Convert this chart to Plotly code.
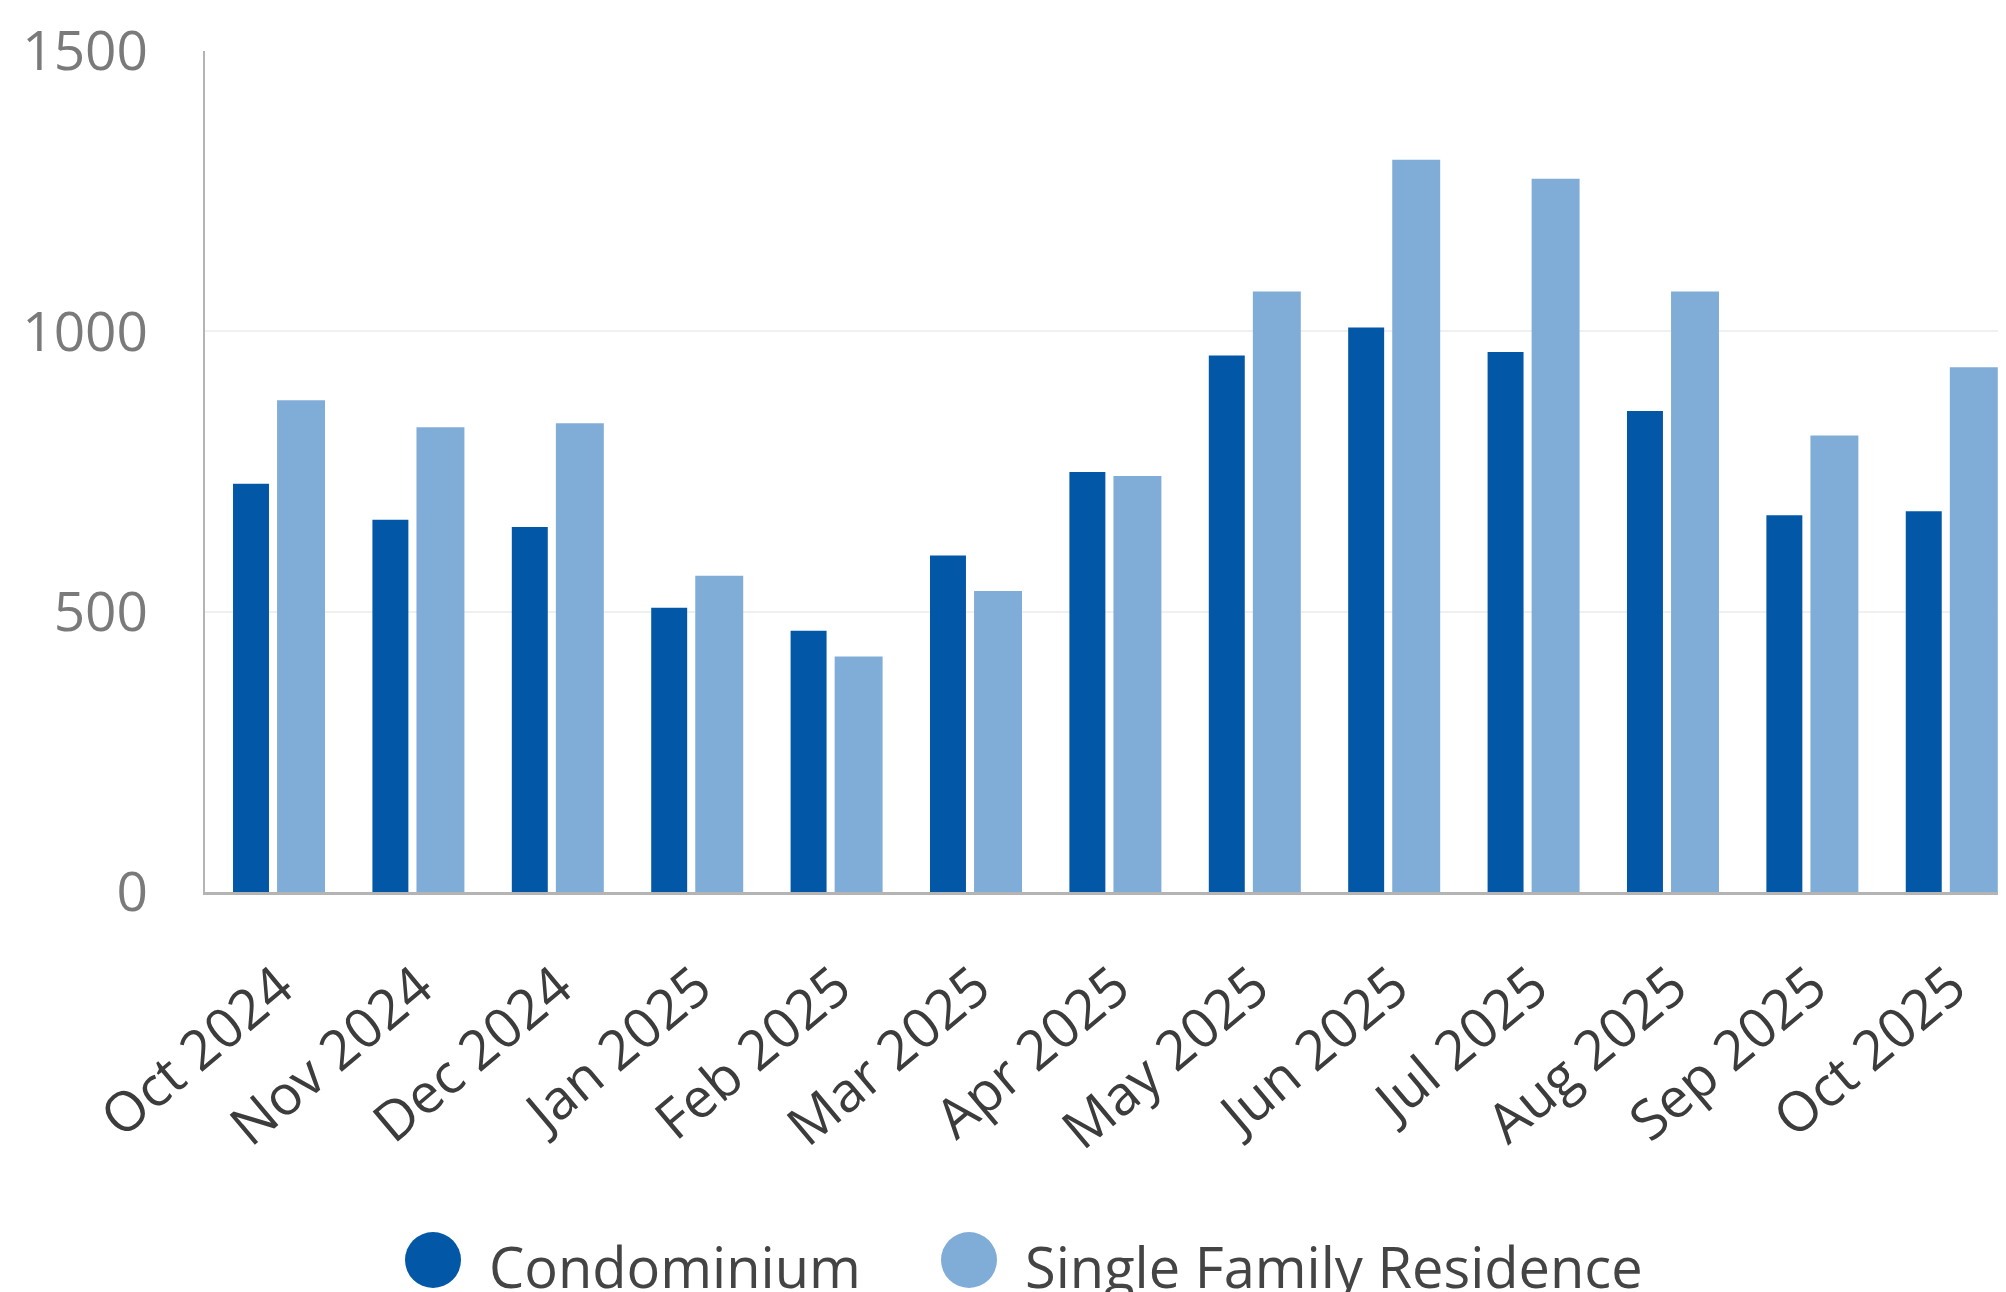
import plotly.graph_objects as go

months = ["Oct 2024", "Nov 2024", "Dec 2024", "Jan 2025", "Feb 2025", "Mar 2025", "Apr 2025",
          "May 2025", "Jun 2025", "Jul 2025", "Aug 2025", "Sep 2025", "Oct 2025"]
condo = [728, 664, 651, 507, 466, 600, 749, 957, 1007, 963, 858, 672, 679]
sfr = [877, 829, 836, 564, 420, 537, 742, 1071, 1306, 1272, 1071, 814, 936]
y_ticks = [0, 500, 1000, 1500]
series_names = ["Condominium", "Single Family Residence"]

DARK = "#0357A7"
LIGHT = "#80ADD8"
FONT = "Open Sans"

# page has an 8px body margin; figure sized to fill the rest of the window
OFF = 8
W, H = 2006 - OFF, 1292 - OFF
L, R, T, B = 205 - OFF, 0, 51 - OFF, H - (892 - OFF)

fig = go.Figure()
fig.add_trace(go.Bar(x=months, y=condo, name=series_names[0], marker_color=DARK,
                     marker_line_width=0, offset=-0.33, width=0.258, showlegend=False))
fig.add_trace(go.Bar(x=months, y=sfr, name=series_names[1], marker_color=LIGHT,
                     marker_line_width=0, offset=-0.014, width=0.344, showlegend=False))

fig.update_layout(
    width=W, height=H,
    margin=dict(l=L, r=R, t=T, b=B, pad=0),
    paper_bgcolor="white", plot_bgcolor="white",
    barmode="overlay",
    font=dict(family=FONT, size=55, color="#444444"),
    xaxis=dict(
        type="category", range=[-0.531, 12.389],
        showline=True, linecolor="#b4b4b4", linewidth=3,
        showgrid=False, ticks="", tickangle=-40,
        tickfont=dict(family=FONT, size=55, color="#3c3c3c"),
        ticklabelstandoff=38,
    ),
    yaxis=dict(
        range=[0, 1500], tickvals=y_ticks,
        showline=True, linecolor="#b4b4b4", linewidth=2,
        showgrid=True, gridcolor="#f0f0f0", gridwidth=2,
        zeroline=False, ticks="",
        tickfont=dict(family=FONT, size=55, color="#7a7a7a"),
        ticklabelstandoff=44,
    ),
)

# Custom legend (circles + text) below the plot, positions in page pixels
plot_w = W - L - R
plot_h = H - T - B

def px_to_paper_x(px):
    return (px - OFF - L) / plot_w

def px_to_paper_y(py):
    return (H - B - (py - OFF)) / plot_h

legend_items = [(series_names[0], DARK, 433, 487), (series_names[1], LIGHT, 969, 1023)]
cy = 1260
r = 28
for name, col, cx, tx in legend_items:
    fig.add_shape(type="circle", xref="paper", yref="paper",
                  xsizemode="pixel", ysizemode="pixel",
                  xanchor=px_to_paper_x(cx), yanchor=px_to_paper_y(cy),
                  x0=-r, x1=r, y0=-r, y1=r,
                  fillcolor=col, line=dict(width=0))
    fig.add_annotation(xref="paper", yref="paper", x=px_to_paper_x(tx), y=px_to_paper_y(cy + 6),
                       text=name, showarrow=False, xanchor="left", yanchor="middle",
                       font=dict(family=FONT, size=56, color="#444444"))

fig.write_html("out.html")
